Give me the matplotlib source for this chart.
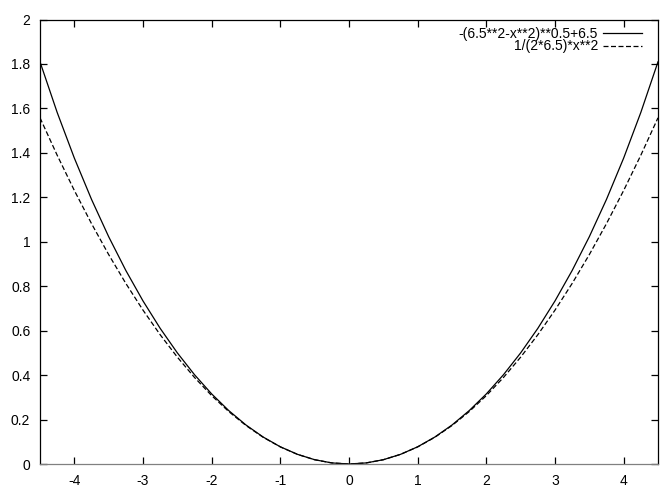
import matplotlib
matplotlib.use('Agg')
import matplotlib.pyplot as plt
import numpy as np

# x samples and values
x = [-4.5, -4.25, -4.0, -3.75, -3.5, -3.25, -3.0, -2.75, -2.5, -2.25, -2.0,
     -1.75, -1.5, -1.25, -1.0, -0.75, -0.5, -0.25, 0.0,
     0.25, 0.5, 0.75, 1.0, 1.25, 1.5, 1.75, 2.0, 2.25, 2.5, 2.75, 3.0,
     3.25, 3.5, 3.75, 4.0, 4.25, 4.5]

half_circle = [0.0, 0.0048, 0.0193, 0.0434, 0.0774, 0.1213, 0.1754, 0.2400,
               0.3153, 0.4018, 0.5000, 0.6104, 0.7337, 0.8708, 1.0228, 1.1908,
               1.3765, 1.5819, 1.8096]
parabola = [0.0, 0.0048, 0.0192, 0.0433, 0.0769, 0.1202, 0.1731, 0.2356,
            0.3077, 0.3894, 0.4808, 0.5817, 0.6923, 0.8125, 0.9423, 1.0817,
            1.2308, 1.3894, 1.5577]

# right half listed, mirrored for the left half
y1 = half_circle[:0:-1] + half_circle
y2 = parabola[:0:-1] + parabola

plt.rcParams['font.family'] = ['Liberation Sans', 'DejaVu Sans']
plt.rcParams['axes.unicode_minus'] = False

fig = plt.figure(figsize=(6.72, 4.97), dpi=100)
ax = fig.add_axes([40 / 672, 1 - 464 / 497, 618 / 672, 444.5 / 497])

ax.plot(x, y1, color='black', linewidth=0.9, label='-(6.5**2-x**2)**0.5+6.5')
ax.plot(x, y2, color='black', linewidth=0.9, linestyle=(0, (4, 2)),
        label='1/(2*6.5)*x**2')

ax.set_xlim(-4.5, 4.5)
ax.set_ylim(0, 2)
ax.set_xticks(np.arange(-4, 5, 1))
ax.set_yticks(np.arange(0, 2.01, 0.2))
ax.set_yticklabels(['0', '0.2', '0.4', '0.6', '0.8', '1', '1.2', '1.4', '1.6', '1.8', '2'])

ax.tick_params(direction='in', length=5, width=0.9, top=True, right=True,
               labelsize=10, pad=7)
for s in ax.spines.values():
    s.set_linewidth(0.9)
ax.spines['bottom'].set_color('#808080')

ax.legend(loc='upper right', bbox_to_anchor=(0.981, 0.993), frameon=False,
          markerfirst=False, fontsize=10, handlelength=2.8,
          handletextpad=0.36, labelspacing=-0.1, borderaxespad=0,
          borderpad=0.3)

fig.savefig('out.png', dpi=100)
